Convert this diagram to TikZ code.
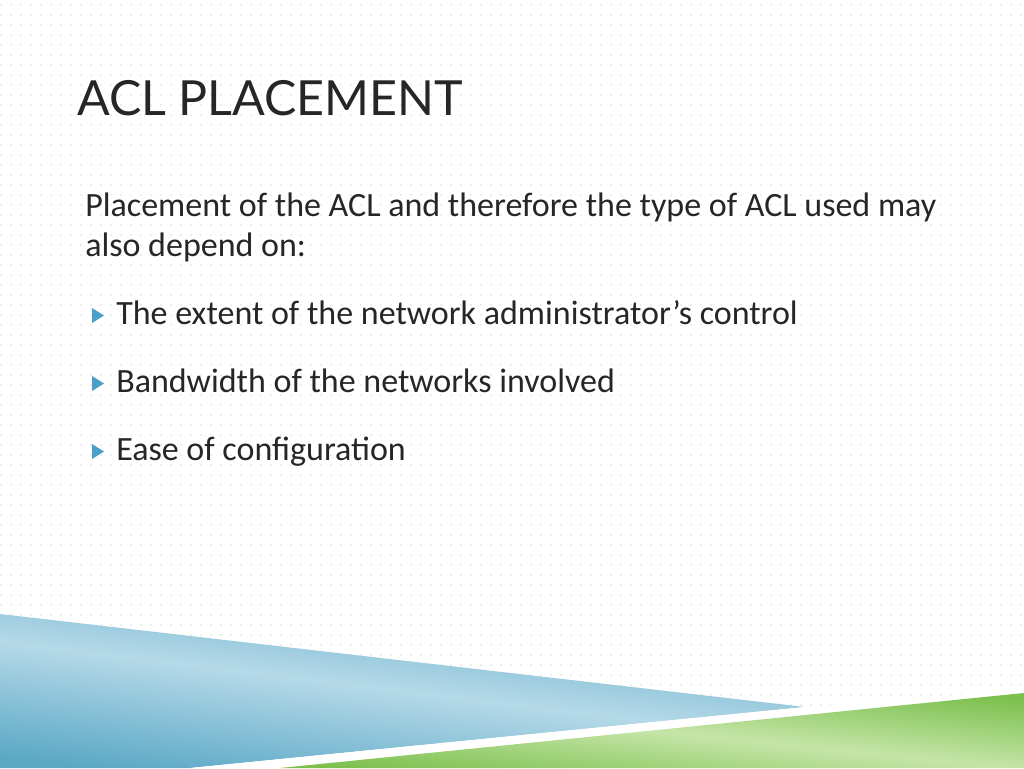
\documentclass[tikz,border=0pt]{standalone}
\usepackage{fontspec}
\setmainfont{Carlito}
\newfontfamily\titlefont{Lato}
\begin{document}
\begin{tikzpicture}[x=0.75pt,y=-0.75pt,
  body/.style={anchor=base west,inner sep=0pt,font=\fontsize{25.5}{30}\selectfont,text=black!85}]
\definecolor{tbul}{HTML}{4A9FC6}
\definecolor{blueA}{HTML}{5CA9C6}
\definecolor{blueB}{HTML}{B5D9E8}
\definecolor{greenA}{HTML}{7CC04E}
\definecolor{greenB}{HTML}{C5E5A8}
\useasboundingbox (0,0) rectangle (1024,768);
\fill[white] (0,0) rectangle (1024,768);
% dotted background
\foreach \y in {5,15,...,765}
  \draw[black!7,line width=1.1pt,dash pattern=on 1.2pt off 6.3pt] (0,\y) -- (1024,\y);
% blue wedge
\shade[top color=blueA,bottom color=blueA,middle color=blueB,shading angle=-7]
  (0,614) -- (805,707) -- (190,768) -- (0,768) -- cycle;
\fill[white] (190,768) -- (805,707) -- (1024,690) -- (1024,693) -- (280,768) -- cycle;
% green wedge
\shade[top color=greenA,bottom color=greenA,middle color=greenB,shading angle=-6]
  (280,768) -- (1024,693) -- (1024,768) -- cycle;
% title
\node[anchor=base west,inner sep=0pt,font=\titlefont\fontsize{36.3}{42}\selectfont,text=black!85] (title) at (77,115) {ACL PLACEMENT};
\node[body] (p1) at (85,216) {Placement of the ACL and therefore the type of ACL used may};
\node[body] (p2) at (85,256) {also depend on:};
\foreach \t/\y/\n in {{The extent of the network administrator’s control}/324/b1,{Bandwidth of the networks involved}/392/b2,{Ease of configuration}/460/b3}{
  \fill[tbul] (92,\y-16) -- (104,\y-8.5) -- (92,\y-1) -- cycle;
  \node[body] (\n) at (116,\y) {\t};
}
\end{tikzpicture}
\end{document}
